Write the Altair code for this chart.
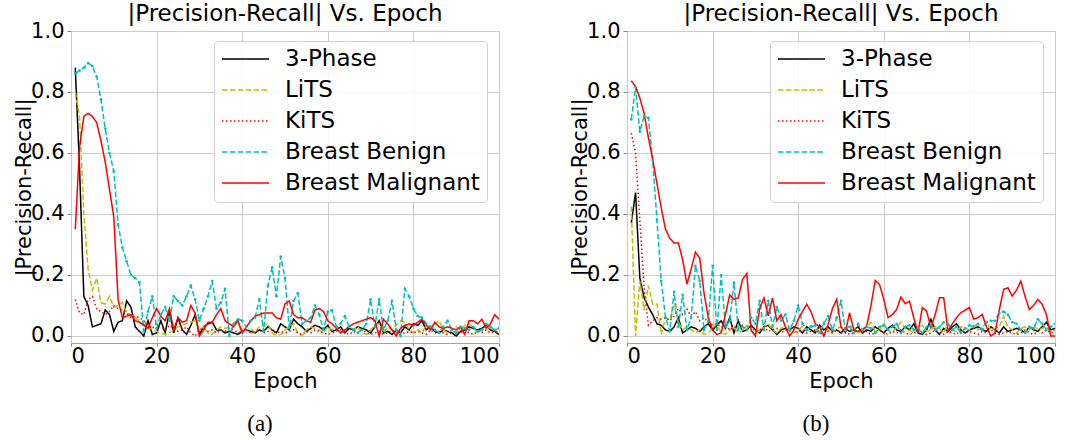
import altair as alt
import pandas as pd

SERIES = ["3-Phase", "LiTS", "KiTS", "Breast Benign", "Breast Malignant"]
COLORS = ["#000000", "#bfbf00", "#ff0000", "#00bfbf", "#ff0000"]
DASHES = [[1, 0], [5.5, 2.4], [1.5, 2.5], [5.5, 2.4], [1, 0]]
EPOCHS = list(range(1, 101))
X_TICKS = [0, 20, 40, 60, 80, 100]
Y_TICKS = [0.0, 0.2, 0.4, 0.6, 0.8, 1.0]
TITLE = "|Precision-Recall| Vs. Epoch"
CAPTIONS = ["(a)", "(b)"]

a_3phase = [0.88, 0.55, 0.13, 0.10, 0.03, 0.035, 0.04, 0.085, 0.07, 0.015,
            0.045, 0.05, 0.115, 0.095, 0.03, 0.015, 0.0, 0.05, 0.005, 0.01,
            0.05, 0.01, 0.08, 0.01, 0.06, 0.02, 0.005, 0.035, 0.07, 0.005,
            0.03, 0.04, 0.045, 0.02, 0.02, 0.01, 0.015, 0.01, 0.005, 0.015,
            0.02, 0.015, 0.01, 0.02, 0.015, 0.03, 0.02, 0.01, 0.04, 0.03,
            0.02, 0.055, 0.04, 0.03, 0.015, 0.025, 0.035, 0.03, 0.02, 0.035,
            0.015, 0.02, 0.03, 0.01, 0.025, 0.02, 0.03, 0.025, 0.02, 0.01,
            0.03, 0.05, 0.01, 0.015, 0.005, 0.02, 0.01, 0.03, 0.02, 0.04,
            0.035, 0.05, 0.02, 0.03, 0.015, 0.01, 0.02, 0.015, 0.01, 0.0,
            0.015, 0.02, 0.03, 0.025, 0.02, 0.025, 0.035, 0.02, 0.015, 0.005]
a_lits = [0.80, 0.72, 0.40, 0.22, 0.15, 0.19, 0.11, 0.105, 0.13, 0.095,
          0.10, 0.11, 0.075, 0.07, 0.06, 0.05, 0.04, 0.03, 0.02, 0.015,
          0.01, 0.005, 0.01, 0.02, 0.03, 0.035, 0.04, 0.045, 0.05, 0.02,
          0.03, 0.01, 0.005, 0.02, 0.03, 0.025, 0.03, 0.04, 0.05, 0.01,
          0.02, 0.025, 0.01, 0.03, 0.035, 0.04, 0.01, 0.0, 0.005, 0.02,
          0.03, 0.04, 0.01, 0.0, 0.02, 0.03, 0.025, 0.02, 0.01, 0.03,
          0.02, 0.03, 0.01, 0.02, 0.035, 0.02, 0.03, 0.01, 0.005, 0.02,
          0.035, 0.04, 0.01, 0.03, 0.02, 0.035, 0.05, 0.045, 0.02, 0.01,
          0.02, 0.01, 0.035, 0.03, 0.04, 0.05, 0.02, 0.01, 0.02, 0.03,
          0.02, 0.035, 0.04, 0.025, 0.01, 0.02, 0.03, 0.025, 0.02, 0.01]
a_kits = [0.12, 0.075, 0.07, 0.12, 0.13, 0.09, 0.08, 0.07, 0.08, 0.10,
          0.09, 0.085, 0.075, 0.06, 0.065, 0.06, 0.05, 0.035, 0.025, 0.04,
          0.03, 0.02, 0.035, 0.025, 0.015, 0.02, 0.03, 0.01, 0.0, 0.02,
          0.025, 0.015, 0.02, 0.01, 0.02, 0.015, 0.025, 0.02, 0.01, 0.015,
          0.02, 0.01, 0.015, 0.02, 0.01, 0.015, 0.02, 0.01, 0.015, 0.01,
          0.015, 0.02, 0.01, 0.005, 0.015, 0.01, 0.02, 0.015, 0.01, 0.005,
          0.01, 0.015, 0.02, 0.01, 0.005, 0.015, 0.01, 0.02, 0.01, 0.005,
          0.01, 0.015, 0.005, 0.01, 0.02, 0.01, 0.005, 0.01, 0.015, 0.01,
          0.015, 0.01, 0.005, 0.02, 0.01, 0.015, 0.01, 0.005, 0.01, 0.015,
          0.01, 0.02, 0.01, 0.005, 0.015, 0.01, 0.02, 0.01, 0.015, 0.01]
a_benign = [0.86, 0.87, 0.88, 0.895, 0.885, 0.85, 0.775, 0.68, 0.60, 0.54,
            0.365, 0.29, 0.245, 0.20, 0.19, 0.175, 0.015, 0.08, 0.13, 0.025,
            0.07, 0.095, 0.05, 0.13, 0.115, 0.10, 0.13, 0.165, 0.12, 0.05,
            0.09, 0.13, 0.18, 0.09, 0.11, 0.155, 0.0, 0.04, 0.055, 0.05,
            0.03, 0.05, 0.06, 0.12, 0.015, 0.165, 0.225, 0.13, 0.26, 0.19,
            0.025, 0.115, 0.14, 0.04, 0.05, 0.06, 0.10, 0.07, 0.02, 0.08,
            0.085, 0.03, 0.04, 0.065, 0.03, 0.02, 0.01, 0.02, 0.04, 0.12,
            0.03, 0.12, 0.02, 0.05, 0.115, 0.02, 0.0, 0.155, 0.13, 0.09,
            0.065, 0.06, 0.04, 0.03, 0.02, 0.01, 0.03, 0.05, 0.02, 0.01,
            0.03, 0.025, 0.02, 0.03, 0.015, 0.02, 0.04, 0.03, 0.02, 0.025]
a_malignant = [0.35, 0.62, 0.72, 0.73, 0.72, 0.70, 0.64, 0.57, 0.48, 0.39,
               0.12, 0.06, 0.065, 0.07, 0.05, 0.045, 0.035, 0.025, 0.06, 0.09,
               0.065, 0.05, 0.09, 0.02, 0.06, 0.045, 0.05, 0.10, 0.075, 0.0,
               0.02, 0.045, 0.045, 0.07, 0.09, 0.05, 0.04, 0.03, 0.05, 0.01,
               0.03, 0.05, 0.065, 0.07, 0.075, 0.075, 0.075, 0.06, 0.055, 0.105,
               0.115, 0.07, 0.06, 0.06, 0.05, 0.045, 0.085, 0.09, 0.08, 0.05,
               0.04, 0.025, 0.01, 0.02, 0.03, 0.04, 0.045, 0.05, 0.055, 0.06,
               0.05, 0.0, 0.055, 0.04, 0.02, 0.0, 0.025, 0.035, 0.04, 0.035,
               0.045, 0.055, 0.035, 0.02, 0.045, 0.03, 0.025, 0.03, 0.025, 0.02,
               0.03, 0.005, 0.05, 0.05, 0.04, 0.055, 0.025, 0.04, 0.07, 0.055]

b_3phase = [0.37, 0.47, 0.19, 0.125, 0.095, 0.07, 0.04, 0.035, 0.02, 0.015,
            0.03, 0.06, 0.01, 0.02, 0.03, 0.025, 0.015, 0.03, 0.04, 0.02,
            0.035, 0.05, 0.025, 0.06, 0.01, 0.05, 0.015, 0.02, 0.035, 0.02,
            0.01, 0.03, 0.035, 0.02, 0.005, 0.02, 0.025, 0.02, 0.03, 0.025,
            0.01, 0.03, 0.02, 0.01, 0.035, 0.02, 0.03, 0.015, 0.02, 0.01,
            0.025, 0.015, 0.02, 0.03, 0.01, 0.02, 0.015, 0.03, 0.02, 0.01,
            0.025, 0.035, 0.02, 0.015, 0.03, 0.02, 0.04, 0.01, 0.005, 0.02,
            0.055, 0.02, 0.005, 0.025, 0.015, 0.03, 0.04, 0.02, 0.01, 0.02,
            0.025, 0.03, 0.02, 0.015, 0.03, 0.02, 0.01, 0.03, 0.015, 0.02,
            0.025, 0.02, 0.01, 0.03, 0.02, 0.015, 0.03, 0.045, 0.02, 0.025]
b_lits = [0.425, 0.0, 0.18, 0.085, 0.165, 0.105, 0.105, 0.005, 0.06, 0.055,
          0.10, 0.045, 0.02, 0.03, 0.02, 0.01, 0.02, 0.005, 0.01, 0.025,
          0.04, 0.01, 0.005, 0.02, 0.03, 0.01, 0.02, 0.035, 0.015, 0.005,
          0.02, 0.03, 0.04, 0.02, 0.01, 0.025, 0.03, 0.02, 0.01, 0.02,
          0.03, 0.015, 0.035, 0.02, 0.01, 0.045, 0.02, 0.01, 0.025, 0.03,
          0.02, 0.035, 0.025, 0.01, 0.02, 0.03, 0.045, 0.015, 0.02, 0.04,
          0.02, 0.01, 0.03, 0.045, 0.025, 0.02, 0.01, 0.03, 0.035, 0.015,
          0.02, 0.03, 0.025, 0.01, 0.04, 0.02, 0.015, 0.03, 0.025, 0.02,
          0.035, 0.02, 0.03, 0.045, 0.02, 0.025, 0.03, 0.065, 0.03, 0.02,
          0.01, 0.025, 0.03, 0.02, 0.035, 0.02, 0.025, 0.03, 0.015, 0.02]
b_kits = [0.665, 0.60, 0.38, 0.16, 0.035, 0.05, 0.06, 0.055, 0.06, 0.05,
          0.065, 0.09, 0.07, 0.088, 0.065, 0.08, 0.05, 0.06, 0.045, 0.035,
          0.04, 0.03, 0.035, 0.02, 0.03, 0.025, 0.035, 0.02, 0.03, 0.015,
          0.02, 0.03, 0.015, 0.02, 0.025, 0.01, 0.02, 0.015, 0.02, 0.01,
          0.02, 0.01, 0.015, 0.02, 0.01, 0.005, 0.015, 0.01, 0.02, 0.01,
          0.015, 0.005, 0.01, 0.02, 0.01, 0.015, 0.005, 0.01, 0.02, 0.01,
          0.005, 0.015, 0.01, 0.02, 0.01, 0.005, 0.01, 0.015, 0.01, 0.005,
          0.01, 0.02, 0.01, 0.005, 0.015, 0.01, 0.005, 0.02, 0.01, 0.015,
          0.01, 0.005, 0.015, 0.01, 0.02, 0.01, 0.005, 0.01, 0.015, 0.01,
          0.005, 0.01, 0.02, 0.01, 0.005, 0.015, 0.01, 0.02, 0.01, 0.015]
b_benign = [0.71, 0.815, 0.67, 0.72, 0.715, 0.575, 0.38, 0.18, 0.06, 0.015,
            0.145, 0.03, 0.135, 0.02, 0.06, 0.23, 0.18, 0.02, 0.05, 0.23,
            0.02, 0.20, 0.03, 0.05, 0.175, 0.02, 0.03, 0.02, 0.06, 0.04,
            0.115, 0.02, 0.115, 0.03, 0.095, 0.05, 0.07, 0.02, 0.05, 0.10,
            0.04, 0.02, 0.03, 0.035, 0.01, 0.04, 0.065, 0.02, 0.06, 0.115,
            0.02, 0.03, 0.01, 0.04, 0.02, 0.03, 0.025, 0.01, 0.03, 0.035,
            0.02, 0.03, 0.04, 0.01, 0.03, 0.035, 0.02, 0.025, 0.01, 0.03,
            0.035, 0.02, 0.03, 0.045, 0.04, 0.02, 0.03, 0.01, 0.025, 0.035,
            0.03, 0.04, 0.02, 0.045, 0.05, 0.05, 0.075, 0.08, 0.07, 0.045,
            0.04, 0.02, 0.01, 0.03, 0.025, 0.055, 0.04, 0.02, 0.03, 0.04]
b_malignant = [0.837, 0.818, 0.78, 0.73, 0.65, 0.58, 0.50, 0.42, 0.35, 0.32,
               0.305, 0.305, 0.25, 0.17, 0.22, 0.275, 0.255, 0.14, 0.06, 0.02,
               0.005, 0.01, 0.07, 0.135, 0.12, 0.125, 0.185, 0.205, 0.02, 0.0,
               0.09, 0.125, 0.066, 0.125, 0.05, 0.07, 0.03, 0.0, 0.02, 0.055,
               0.08, 0.104, 0.08, 0.04, 0.03, 0.0, 0.038, 0.09, 0.12, 0.03,
               0.011, 0.076, 0.02, 0.015, 0.02, 0.033, 0.1, 0.182, 0.169, 0.12,
               0.06, 0.07, 0.087, 0.128, 0.106, 0.114, 0.06, 0.011, 0.093, 0.082,
               0.027, 0.07, 0.125, 0.125, 0.016, 0.04, 0.06, 0.076, 0.085, 0.093,
               0.055, 0.06, 0.071, 0.03, 0.0, 0.01, 0.087, 0.153, 0.158, 0.131,
               0.15, 0.18, 0.13, 0.087, 0.1, 0.12, 0.104, 0.07, 0.0, 0.0]

PANEL_A = [a_3phase, a_lits, a_kits, a_benign, a_malignant]
PANEL_B = [b_3phase, b_lits, b_kits, b_benign, b_malignant]


def to_frame(series_values):
    rows = []
    for name, vals in zip(SERIES, series_values):
        for ep, v in zip(EPOCHS, vals):
            rows.append({"epoch": ep, "value": v, "series": name})
    return pd.DataFrame(rows)


def panel(series_values, caption):
    df = to_frame(series_values)
    x = alt.X("epoch:Q", scale=alt.Scale(domain=[0, 100], nice=False),
              axis=alt.Axis(values=X_TICKS, title="Epoch"))
    y = alt.Y("value:Q", scale=alt.Scale(domain=[-0.023, 1.0], nice=False, zero=False),
              axis=alt.Axis(values=Y_TICKS, format=".1f", title="|Precision-Recall|"))
    lines = alt.Chart(df).mark_line(strokeWidth=1.5, clip=True).encode(
        x=x, y=y,
        color=alt.Color("series:N", scale=alt.Scale(domain=SERIES, range=COLORS), title=None),
        strokeDash=alt.StrokeDash("series:N", scale=alt.Scale(domain=SERIES, range=DASHES), title=None),
    )
    pts = alt.Chart(df).transform_filter(alt.datum.series == "Breast Benign").mark_point(
        filled=True, size=7, color="#00bfbf", opacity=1, clip=True
    ).encode(x=x, y=y)
    cap = alt.Chart(pd.DataFrame({"t": [caption]})).mark_text(
        font="Liberation Serif", fontSize=23, color="black"
    ).encode(text="t:N", x=alt.value(189), y=alt.value(393))
    return alt.layer(lines, pts, cap).properties(
        width=428, height=312,
        title=alt.TitleParams(TITLE, font="DejaVu Sans", fontSize=23, fontWeight="normal",
                              offset=-6, color="black", frame="group", anchor="middle"),
    )


chart = alt.hconcat(panel(PANEL_A, CAPTIONS[0]), panel(PANEL_B, CAPTIONS[1]), spacing=69).resolve_scale(
    color="independent", strokeDash="independent"
).properties(padding={"left": 13, "top": 2, "right": 2, "bottom": 2}).configure_view(
    stroke="#a0a0a0", strokeWidth=1
).configure_axis(
    labelFont="DejaVu Sans", labelFontSize=21, labelColor="black",
    titleFont="DejaVu Sans", titleFontSize=21, titleFontWeight="normal", titleColor="black",
    gridColor="#cccccc", gridWidth=1, domain=False, tickColor="#888888", tickSize=4, labelPadding=3,
).configure_axisY(titlePadding=-4).configure_axisX(titlePadding=4, labelPadding=-1, tickSize=3).configure_legend(
    orient="none", legendX=143, legendY=10, symbolType="stroke", symbolSize=2209,
    symbolStrokeWidth=1.5, labelFont="DejaVu Sans", labelFontSize=23, labelColor="black",
    labelLimit=0, labelOffset=15, clipHeight=22, rowPadding=8, padding=7,
    fillColor="rgba(255,255,255,0.85)", strokeColor="#d0d0d0", cornerRadius=4,
)

chart.save("out.html", embed_options={"renderer": "svg", "actions": False})
